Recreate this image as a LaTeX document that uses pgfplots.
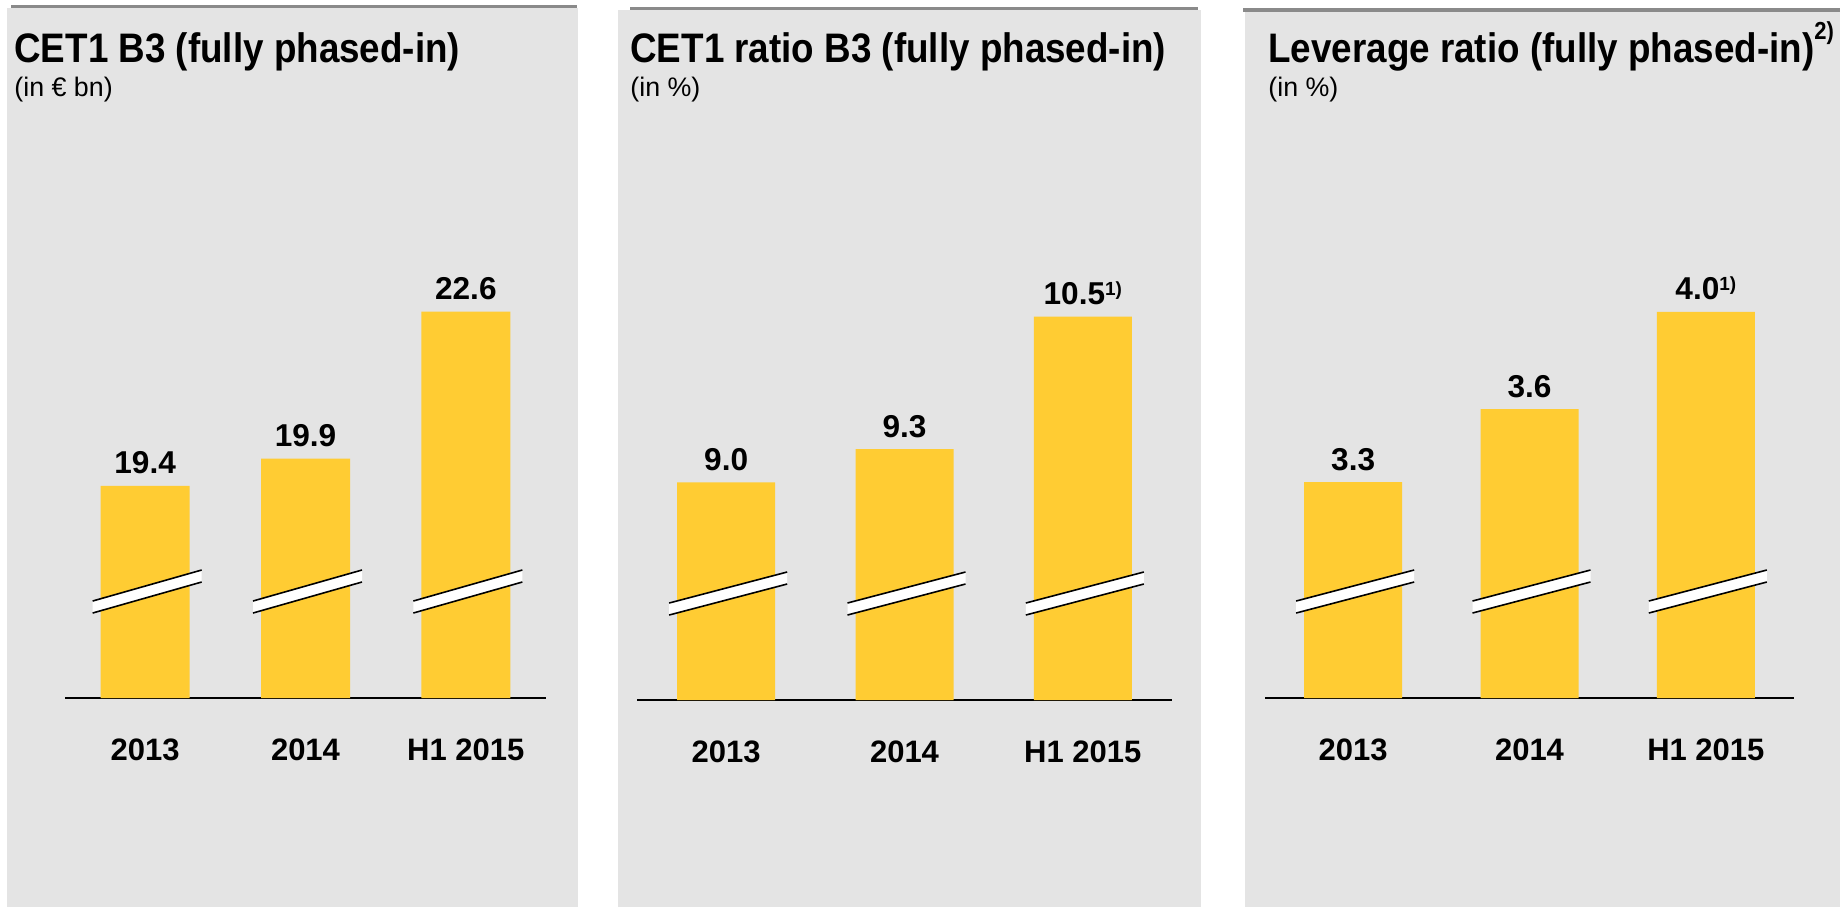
\documentclass[border=0pt]{standalone}
\usepackage{pgfplots}
\pgfplotsset{compat=1.18}
\usepackage{fontspec}
\setmainfont{Liberation Sans}

\definecolor{barcol}{HTML}{FFCC33}
\definecolor{panelbg}{HTML}{E4E4E4}
\definecolor{rulegray}{HTML}{8A8A8A}

\DeclareRobustCommand\fn[1]{\raisebox{4.5pt}{\fontsize{9.5}{9.5}\selectfont #1}}
\newcommand\ttl[1]{\scalebox{1}[1.12]{#1}}

% axis-break mark across a bar: #1 = coordinate at bar foot, #2 = half bar width
\newcommand\brk[2]{%
  \fill[white] ([shift={(-#2-4pt,48.5pt)}]#1) -- ([shift={(#2+6pt,64pt)}]#1)
     -- ([shift={(#2+6pt,58pt)}]#1) -- ([shift={(-#2-4pt,42.5pt)}]#1) -- cycle;
  \draw[line width=0.8pt] ([shift={(-#2-4pt,48.5pt)}]#1) -- ([shift={(#2+6pt,64pt)}]#1);
  \draw[line width=0.8pt] ([shift={(-#2-4pt,42.5pt)}]#1) -- ([shift={(#2+6pt,58pt)}]#1);
}

\pgfplotsset{
  panel/.style={
    scale only axis, anchor=south west,
    ybar, bar width=#1, height=250pt,
    xmin=-0.5, xmax=2.5, enlargelimits=false,
    axis x line=bottom, axis y line=none,
    x axis line style={-, line width=1pt, black},
    xtick={0,1,2}, xticklabels={2013,2014,H1 2015},
    major tick length=0pt,
    xticklabel style={font=\bfseries\fontsize{15.5}{18}\selectfont, anchor=base, yshift=-31pt},
    point meta=explicit symbolic,
    nodes near coords,
    every node near coord/.append style={font=\bfseries\fontsize{15.8}{18}\selectfont,
      anchor=base, yshift=6pt, inner sep=0pt},
  },
}

\begin{document}
\begin{tikzpicture}
\useasboundingbox (0,0) rectangle (920pt,-453.5pt);
\fill[white] (0,0) rectangle (920pt,-453.5pt);

% panels
\fill[panelbg] (3.5pt,-4pt) rectangle (289pt,-453.5pt);
\draw[rulegray, line width=1.5pt] (5.5pt,-3.25pt) -- (288.5pt,-3.25pt);
\fill[panelbg] (309pt,-5pt) rectangle (600.5pt,-453.5pt);
\draw[rulegray, line width=1.75pt] (315pt,-4.15pt) -- (599pt,-4.15pt);
\fill[panelbg] (622.5pt,-6pt) rectangle (920pt,-453.5pt);
\draw[rulegray, line width=2pt] (621.5pt,-4.8pt) -- (920pt,-4.8pt);

% titles
\begin{scope}[every node/.style={anchor=base west, inner sep=0pt}]
\node[font=\bfseries\fontsize{18.4}{22}\selectfont] at (7pt,-31pt) {\ttl{CET1 B3 (fully phased-in)}};
\node[font=\fontsize{13.4}{15}\selectfont] at (7pt,-48pt) {(in € bn)};
\node[font=\bfseries\fontsize{18.4}{22}\selectfont] at (315pt,-31pt) {\ttl{CET1 ratio B3 (fully phased-in)}};
\node[font=\fontsize{13.4}{15}\selectfont] at (315pt,-48pt) {(in \%)};
\node[font=\bfseries\fontsize{18.4}{22}\selectfont] at (634pt,-31pt)
  {\ttl{Leverage ratio (fully phased-in)\raisebox{0.55em}{\fontsize{11}{11}\selectfont 2)}}};
\node[font=\fontsize{13.4}{15}\selectfont] at (634pt,-48pt) {(in \%)};
\end{scope}

% CET1 B3, EUR bn
\begin{axis}[panel=44.5pt, at={(32.5pt,-349pt)}, width=240.5pt, ymin=15.5, ymax=24.69]
  \addplot[fill=barcol, draw=none] coordinates {(0,19.4) [19.4] (1,19.9) [19.9] (2,22.6) [22.6]};
  \coordinate (a0) at (axis cs:0,15.5);
  \coordinate (a1) at (axis cs:1,15.5);
  \coordinate (a2) at (axis cs:2,15.5);
\end{axis}

% CET1 ratio B3, %
\begin{axis}[panel=49pt, at={(318.5pt,-350pt)}, width=267.5pt, ymin=7.03, ymax=11.555]
  \addplot[fill=barcol, draw=none] coordinates {(0,9.0) [9.0] (1,9.3) [9.3] (2,10.5) [10.5\fn{1)}]};
  \coordinate (b0) at (axis cs:0,7.03);
  \coordinate (b1) at (axis cs:1,7.03);
  \coordinate (b2) at (axis cs:2,7.03);
\end{axis}

% leverage ratio, %
\begin{axis}[panel=49pt, at={(632.5pt,-349pt)}, width=264.5pt, ymin=2.411, ymax=4.469]
  \addplot[fill=barcol, draw=none] coordinates {(0,3.3) [3.3] (1,3.6) [3.6] (2,4.0) [4.0\fn{1)}]};
  \coordinate (c0) at (axis cs:0,2.411);
  \coordinate (c1) at (axis cs:1,2.411);
  \coordinate (c2) at (axis cs:2,2.411);
\end{axis}

\brk{a0}{22.25pt}\brk{a1}{22.25pt}\brk{a2}{22.25pt}
\brk{b0}{24.5pt}\brk{b1}{24.5pt}\brk{b2}{24.5pt}
\brk{c0}{24.5pt}\brk{c1}{24.5pt}\brk{c2}{24.5pt}
\end{tikzpicture}
\end{document}
